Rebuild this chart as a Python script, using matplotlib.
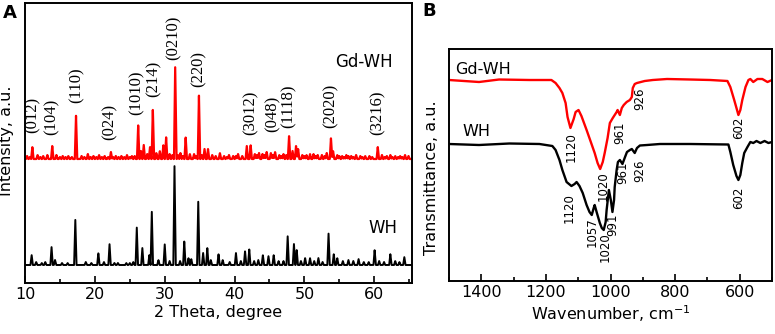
import numpy as np
import matplotlib
matplotlib.use("Agg")
import matplotlib.pyplot as plt
from matplotlib.ticker import MultipleLocator

plt.rcParams['font.family'] = ['DejaVu Sans']

# ---------------- XRD data (panel A) ----------------
wh_peak_pos = [10.95, 11.6, 12.4, 12.9, 13.8, 14.3, 15.3, 16.1, 17.2, 18.7, 19.5, 20.5, 21.3, 22.1,
               22.8, 23.3, 24.5, 25.0, 25.5, 26.0, 26.8, 27.8, 28.15, 29.1, 30.0, 30.7, 31.4, 32.2,
               32.8, 33.4, 33.8, 34.8, 35.5, 36.1, 36.6, 37.7, 38.3, 39.3, 40.2, 40.9, 41.5, 42.1,
               42.8, 43.4, 44.05, 44.85, 45.6, 46.3, 47.0, 47.6, 48.5, 48.9, 49.5, 50.1, 50.8, 51.4,
               52.0, 52.6, 53.45, 54.2, 54.7, 55.5, 56.3, 57.0, 57.75, 58.5, 59.2, 60.05, 60.7, 61.4,
               62.3, 63.0, 63.6, 64.3]
wh_peak_h = [10, 3, 2, 3, 18, 5, 2, 2, 46, 3, 2, 12, 3, 21,
             2, 2, 2, 2, 3, 38, 17, 10, 54, 5, 21, 4, 99, 4,
             24, 7, 6, 64, 12, 17, 5, 11, 5, 3, 12, 4, 14, 16,
             4, 5, 10, 9, 10, 4, 4, 29, 21, 15, 4, 7, 7, 4,
             7, 3, 32, 11, 7, 4, 5, 4, 6, 3, 3, 15, 4, 3,
             11, 4, 3, 8]
wh_base = 18

gd_peak_pos = [10.3, 10.7, 11.05, 11.8, 12.2, 12.6, 13.2, 13.9, 14.5, 15.0, 15.4, 15.8, 16.2, 16.7,
               17.3, 18.1, 18.5, 19.0, 19.4, 19.8, 20.2, 20.6, 21.0, 21.4, 21.9, 22.3, 22.6, 23.0,
               23.4, 23.8, 24.2, 24.6, 25.0, 25.3, 25.7, 26.2, 26.6, 27.0, 27.5, 27.9, 28.3, 28.8,
               29.3, 29.8, 30.2, 30.7, 31.1, 31.5, 31.9, 32.25, 32.6, 33.0, 33.6, 34.2, 34.5, 34.9,
               35.3, 35.7, 36.2, 36.8, 37.3, 37.9, 38.5, 38.9, 39.2, 39.8, 40.2, 40.5, 41.1, 41.75,
               42.3, 42.9, 43.2, 43.5, 44.0, 44.3, 44.6, 45.2, 45.5, 45.8, 46.4, 46.7, 47.0, 47.4,
               47.8, 48.3, 48.8, 49.1, 49.7, 50.0, 50.3, 50.8, 51.3, 51.6, 51.9, 52.5, 52.9, 53.2,
               53.8, 54.1, 54.7, 55.0, 55.4, 55.7, 56.0, 56.3, 56.7, 57.0, 57.4, 58.0, 58.3, 58.7,
               59.3, 59.7, 60.5, 61.1, 61.5, 61.8, 62.3, 62.6, 63.0, 63.4, 63.7, 64.0, 64.4, 64.9]
gd_peak_h = [3, 2, 12, 4, 2, 3, 4, 13, 4, 2, 3, 2, 3, 2,
             44, 3, 2, 5, 2, 3, 2, 4, 2, 3, 2, 7, 2, 3,
             2, 3, 2, 4, 2, 3, 3, 34, 8, 14, 5, 12, 50, 6,
             8, 14, 22, 5, 4, 92, 4, 6, 3, 22, 5, 5, 3, 64,
             4, 10, 10, 4, 3, 6, 3, 2, 4, 3, 3, 5, 3, 13,
             14, 5, 4, 6, 5, 4, 7, 6, 4, 7, 4, 3, 5, 4,
             23, 8, 13, 10, 4, 3, 4, 5, 5, 3, 4, 4, 3, 6,
             21, 8, 4, 3, 3, 2, 4, 3, 3, 2, 4, 3, 2, 3,
             3, 2, 12, 4, 2, 3, 4, 2, 3, 2, 3, 2, 4, 3]
gd_base = 124

hkl_labels = ['(012)', '(104)', '(110)', '(024)', '(1010)', '(214)', '(0210)',
              '(220)', '(3012)', '(048)', '(1118)', '(2020)', '(3216)']
hkl_pos = [11.15, 13.86, 17.44, 22.17, 26.03, 28.47, 31.33, 34.91, 42.35, 45.5, 47.79, 53.8, 60.53]
hkl_bottom = [150, 148, 180, 143, 168, 186, 223, 196, 148, 151, 155, 155, 148]

# ---------------- FTIR data (panel B) ----------------
gd_wn = [1500, 1407, 1345, 1251, 1183, 1170, 1158, 1149, 1139, 1133, 1124, 1114, 1108, 1099, 1090,
         1074, 1062, 1049, 1040, 1032, 1024, 1018, 1009, 1002, 993, 987, 981, 978, 971, 965,
         959, 950, 940, 934, 931, 925, 918, 894, 869, 825, 754, 691, 638, 629, 617,
         610, 604, 598, 592, 582, 573, 567, 558, 545, 530, 514, 500]
gd_px = [80, 82, 79.5, 80, 80, 83, 88, 93, 103, 117, 128, 119, 112, 110, 116,
         130, 141, 153, 163, 169, 162, 153, 138, 123, 118, 115, 112, 110, 115, 108,
         105, 102, 100, 97, 88, 84, 83, 81, 80, 79, 79.5, 80, 81, 87, 100,
         108, 115, 110, 100, 87, 80, 79, 82, 79, 79, 82, 80]
gd_T = [232 + 49 - p for p in gd_px]

wh_wn = [1500, 1407, 1313, 1220, 1180, 1170, 1158, 1149, 1136, 1121, 1111, 1105, 1096, 1086, 1074,
         1065, 1058, 1052, 1049, 1043, 1033, 1027, 1021, 1015, 1012, 1005, 999, 994, 989, 987,
         981, 977, 971, 963, 955, 949, 940, 934, 925, 918, 909, 887, 847, 753, 635,
         629, 620, 610, 604, 598, 592, 586, 576, 567, 558, 548, 536, 523, 511, 500]
wh_px = [144, 145, 143.5, 144, 146, 150, 160, 170, 182, 186, 184, 182, 186, 193, 205,
         212, 215, 208, 205, 212, 223, 228, 230, 222, 210, 190, 200, 212, 200, 187,
         170, 162, 160, 164, 157, 152, 150, 149, 153, 148, 145.5, 145, 144, 144, 144.5,
         152, 165, 176, 180, 175, 163, 153, 147, 142, 143, 141, 143, 141, 143, 142]
wh_T = [232 + 49 - p for p in wh_px]

ir_gd_lab = ['1120', '1020', '961', '926', '602']
ir_gd_lab_x = [1121, 1024, 971, 909, 604]
ir_gd_lab_top = [149, 110, 159, 194, 164]
ir_wh_lab = ['1120', '1057', '1020', '991', '961', '926', '602']
ir_wh_lab_x = [1127, 1058, 1018, 993, 962, 909, 604]
ir_wh_lab_top = [88, 64, 49, 68, 120, 121, 94]

# ---------------- figure ----------------
W, H = 775, 334
fig = plt.figure(figsize=(W / 100, H / 100), dpi=100)
ax1 = fig.add_axes([25 / W, 1 - 283 / H, 387 / W, 280 / H])
ax2 = fig.add_axes([449 / W, 1 - 281 / H, 323 / W, 232 / H])

x = np.linspace(10, 65.4, 5000)


def pattern(pos, hts, base, w=0.17):
    y = np.full_like(x, float(base))
    for p, h in zip(pos, hts):
        y += h * np.clip(1 - np.abs(x - p) / w, 0, None)
    return y


ax1.plot(x, pattern(wh_peak_pos, wh_peak_h, wh_base), color='black', lw=1.4)
ax1.plot(x, pattern(gd_peak_pos, gd_peak_h, gd_base), color='#ff0000', lw=1.6)
ax1.set_xlim(10, 65.4)
ax1.set_ylim(0, 280)
ax1.set_yticks([])
ax1.xaxis.set_major_locator(MultipleLocator(10))
ax1.xaxis.set_minor_locator(MultipleLocator(5))
ax1.tick_params(axis='x', which='major', direction='in', length=5, width=1.2, labelsize=11.5, pad=3)
ax1.tick_params(axis='x', which='minor', direction='in', length=3, width=1.2)
for t, p, b in zip(hkl_labels, hkl_pos, hkl_bottom):
    ax1.text(p, b, t, rotation=90, ha='center', va='bottom', fontsize=12,
             family=['Liberation Serif', 'DejaVu Serif'])
ax1.text((335 - 25) / 387, (283 - 62) / 280, 'Gd-WH', fontsize=12, ha='left', va='center',
         transform=ax1.transAxes)
ax1.text((368 - 25) / 387, (283 - 228) / 280, 'WH', fontsize=12, ha='left', va='center',
         transform=ax1.transAxes)
ax1.set_xlabel('2 Theta, degree', fontsize=11.5, labelpad=2)

ax2.plot(gd_wn, gd_T, color='#ff0000', lw=1.7)
ax2.plot(wh_wn, wh_T, color='black', lw=1.7)
ax2.set_xlim(1500, 500)
ax2.set_ylim(0, 232)
ax2.set_yticks([])
ax2.xaxis.set_major_locator(MultipleLocator(200))
ax2.xaxis.set_minor_locator(MultipleLocator(100))
ax2.tick_params(axis='x', which='major', direction='in', length=5, width=1.2, labelsize=11.5, pad=3)
ax2.tick_params(axis='x', which='minor', direction='in', length=3, width=1.2)
for t, p, b in zip(ir_gd_lab, ir_gd_lab_x, ir_gd_lab_top):
    ax2.text(p, b, t, rotation=90, ha='center', va='top', fontsize=8.5)
for t, p, b in zip(ir_wh_lab, ir_wh_lab_x, ir_wh_lab_top):
    ax2.text(p, b, t, rotation=90, ha='center', va='top', fontsize=8.5)
ax2.text((455 - 449) / 323, (281 - 69) / 232, 'Gd-WH', fontsize=11.5, ha='left', va='center',
         transform=ax2.transAxes)
ax2.text((462 - 449) / 323, (281 - 131) / 232, 'WH', fontsize=11.5, ha='left', va='center',
         transform=ax2.transAxes)
ax2.set_xlabel('Wavenumber, cm$^{-1}$', fontsize=11.5, labelpad=2)

for ax in (ax1, ax2):
    for s in ax.spines.values():
        s.set_linewidth(1.4)

fig.text(6.5 / W, 1 - 141 / H, 'Intensity, a.u.', rotation=90, ha='center', va='center', fontsize=11.5)
fig.text(431 / W, 1 - 178 / H, 'Transmittance, a.u.', rotation=90, ha='center', va='center', fontsize=11.5)
fig.text(3 / W, 1 - 13 / H, 'A', fontsize=13, weight='bold', ha='left', va='center')
fig.text(422 / W, 1 - 11.5 / H, 'B', fontsize=13, weight='bold', ha='left', va='center')

fig.savefig('out.png', dpi=100)
